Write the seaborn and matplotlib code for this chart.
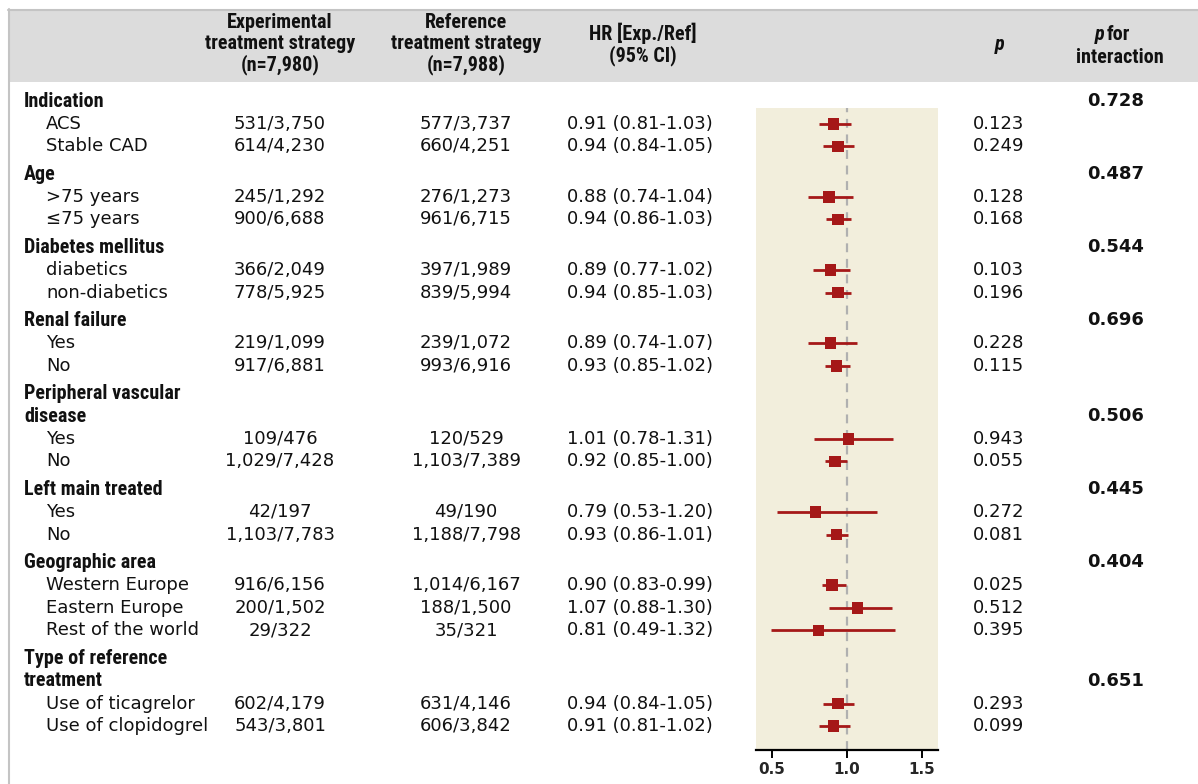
import matplotlib
matplotlib.use("Agg")
import matplotlib.pyplot as plt
from matplotlib import font_manager
import seaborn as sns
import pandas as pd

sns.set_style("white")
plt.rcParams['font.family'] = ['DejaVu Sans']

# groups: header lines, interaction p, subgroup names
groups = [
    (["Indication"], "0.728", ["ACS", "Stable CAD"]),
    (["Age"], "0.487", [">75 years", "\u226475 years"]),
    (["Diabetes mellitus"], "0.544", ["diabetics", "non-diabetics"]),
    (["Renal failure"], "0.696", ["Yes", "No"]),
    (["Peripheral vascular", "disease"], "0.506", ["Yes", "No"]),
    (["Left main treated"], "0.445", ["Yes", "No"]),
    (["Geographic area"], "0.404", ["Western Europe", "Eastern Europe", "Rest of the world"]),
    (["Type of reference", "treatment"], "0.651", ["Use of ticagrelor", "Use of clopidogrel"]),
]
exp_events = ["531/3,750", "614/4,230", "245/1,292", "900/6,688", "366/2,049", "778/5,925",
              "219/1,099", "917/6,881", "109/476", "1,029/7,428", "42/197", "1,103/7,783",
              "916/6,156", "200/1,502", "29/322", "602/4,179", "543/3,801"]
ref_events = ["577/3,737", "660/4,251", "276/1,273", "961/6,715", "397/1,989", "839/5,994",
              "239/1,072", "993/6,916", "120/529", "1,103/7,389", "49/190", "1,188/7,798",
              "1,014/6,167", "188/1,500", "35/321", "631/4,146", "606/3,842"]
hr = [0.91, 0.94, 0.88, 0.94, 0.89, 0.94, 0.89, 0.93, 1.01, 0.92, 0.79, 0.93, 0.90, 1.07, 0.81, 0.94, 0.91]
lo = [0.81, 0.84, 0.74, 0.86, 0.77, 0.85, 0.74, 0.85, 0.78, 0.85, 0.53, 0.86, 0.83, 0.88, 0.49, 0.84, 0.81]
hi = [1.03, 1.05, 1.04, 1.03, 1.02, 1.03, 1.07, 1.02, 1.31, 1.00, 1.20, 1.01, 0.99, 1.30, 1.32, 1.05, 1.02]
pvals = ["0.123", "0.249", "0.128", "0.168", "0.103", "0.196", "0.228", "0.115", "0.943", "0.055",
         "0.272", "0.081", "0.025", "0.512", "0.395", "0.293", "0.099"]

RED = "#a51818"
BEIGE = "#f2eedc"
HEAD = "#dcdcdc"
W, H = 1198, 784

# condensed bold face for headings, if one is installed
installed = {f.name for f in font_manager.fontManager.ttflist}
narrow = "DejaVu Sans"
for cand in ["Roboto Condensed", "Liberation Sans Narrow", "Open Sans Condensed", "DejaVu Sans Condensed"]:
    if cand in installed:
        narrow = cand
        break
hsize = 14.5 if narrow != "DejaVu Sans" else 13

body = dict(fontsize=13, color="#111111")
bold = dict(fontsize=hsize, fontweight="bold", color="#111111", family=[narrow, "DejaVu Sans"])
hfont = dict(fontsize=hsize, fontweight="bold", color="#111111", family=[narrow, "DejaVu Sans"])

fig = plt.figure(figsize=(W / 100, H / 100), dpi=100)
bg = fig.add_axes([0, 0, 1, 1])
bg.set_xlim(0, W)
bg.set_ylim(H, 0)
bg.axis("off")

# header band and frame
bg.fill_between([8, W], 10, 82, color=HEAD, lw=0)
bg.plot([8, W], [9.5, 9.5], color="#c4c4c4", lw=1.5)
bg.plot([8.5, 8.5], [9, H], color="#c4c4c4", lw=1.5)

bg.text(280, 44, "Experimental\ntreatment strategy\n(n=7,980)", ha="center", va="center",
        linespacing=1.08, **hfont)
bg.text(466, 44, "Reference\ntreatment strategy\n(n=7,988)", ha="center", va="center",
        linespacing=1.08, **hfont)
bg.text(643, 44, "HR [Exp./Ref]\n(95% CI)", ha="center", va="center", linespacing=1.08, **hfont)
bg.text(1000, 44, "p", ha="center", va="center", style="italic", **hfont)
bg.text(1104, 34, "p", ha="right", va="center", style="italic", **hfont)
bg.text(1107, 34, "for", ha="left", va="center", **hfont)
bg.text(1120, 57, "interaction", ha="center", va="center", **hfont)

# row layout
step, gap = 22.7, 5.0
y = 101.0
row_y = []
for heads, pint, subs in groups:
    for i, h in enumerate(heads):
        bg.text(24, y, h, ha="left", va="center", **bold)
        if i == len(heads) - 1:
            bg.text(1116, y, pint, ha="center", va="center", fontsize=13, fontweight="bold",
                    color="#111111")
        y += step
    for s in subs:
        k = len(row_y)
        bg.text(46, y, s, ha="left", va="center", **body)
        bg.text(280, y, exp_events[k], ha="center", va="center", **body)
        bg.text(466, y, ref_events[k], ha="center", va="center", **body)
        bg.text(567, y, "%.2f (%.2f-%.2f)" % (hr[k], lo[k], hi[k]), ha="left", va="center", **body)
        bg.text(973, y, pvals[k], ha="left", va="center", **body)
        row_y.append(y)
        y += step
    y += gap

df = pd.DataFrame({"hr": hr, "lo": lo, "hi": hi, "y": row_y})

# forest panel
x0, x1, ytop, ybot = 756, 938, 108, 750
ax = fig.add_axes([x0 / W, (H - ybot) / H, (x1 - x0) / W, (ybot - ytop) / H])
ax.set_facecolor(BEIGE)
ax.set_xlim(0.393, 1.607)
ax.set_ylim(ybot, ytop)
ax.axvline(1.0, color="#b0b0b0", lw=1.6, ls=(0, (4, 3)), zorder=1)
ax.hlines(df["y"], df["lo"], df["hi"], color=RED, lw=2, zorder=2)
sns.scatterplot(data=df, x="hr", y="y", marker="s", s=70, color=RED, edgecolor="none",
                ax=ax, zorder=3, legend=False)
for sp in ["top", "left", "right"]:
    ax.spines[sp].set_visible(False)
ax.spines["bottom"].set_color("black")
ax.spines["bottom"].set_linewidth(1.6)
ax.set_xticks([0.5, 1.0, 1.5])
ax.set_xticklabels(["0.5", "1.0", "1.5"], fontweight="bold", fontsize=11)
ax.tick_params(axis="x", direction="out", length=6, width=1.4, color="black", pad=3, bottom=True)
ax.set_yticks([])
ax.set_xlabel("")
ax.set_ylabel("")

fig.savefig("out.png", dpi=100, facecolor="white")
